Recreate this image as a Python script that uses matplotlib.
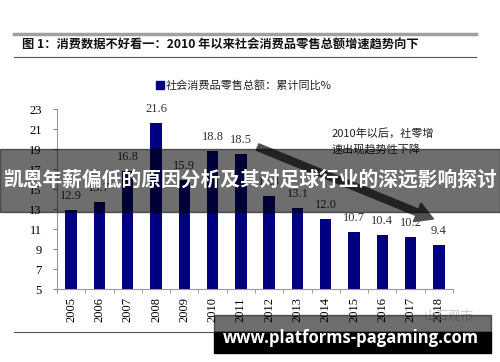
import matplotlib
matplotlib.use("Agg")
import matplotlib.pyplot as plt
from matplotlib.patches import Rectangle, FancyArrowPatch
from matplotlib.lines import Line2D

plt.rcParams['font.family'] = ['Noto Sans CJK SC', 'DejaVu Sans']

years = ['2005', '2006', '2007', '2008', '2009', '2010', '2011',
         '2012', '2013', '2014', '2015', '2016', '2017', '2018']
values = [12.9, 13.7, 16.8, 21.6, 15.9, 18.8, 18.5,
          14.3, 13.1, 12.0, 10.7, 10.4, 10.2, 9.4]
yticks = [5, 7, 9, 11, 13, 15, 17, 19, 21, 23]

title = '图 1：消费数据不好看一：2010 年以来社会消费品零售总额增速趋势向下'
legend_label = '社会消费品零售总额：累计同比%'
note_lines = ['2010年以后，社零增', '速出现趋势性下降']
banner = '凯恩年薪偏低的原因分析及其对足球行业的深远影响探讨'
site = 'www.platforms-pagaming.com'
watermark = '山石观市'

W, H = 500, 362
fig = plt.figure(figsize=(W / 100, H / 100), dpi=100)

def fx(px):
    return px / W

def fy(py):
    return 1 - py / H

ax = fig.add_axes([fx(57), fy(289), fx(453) - fx(57), fy(109) - fy(289)])
x = list(range(len(years)))
ax.bar(x, values, width=0.4, color='#000080', zorder=2)
ax.set_xlim(-0.5, len(years) - 0.5)
ax.set_ylim(5, 23)
ax.set_yticks(yticks)
ax.set_yticklabels([str(t) for t in yticks], family='Liberation Serif', fontsize=9)
ax.set_xticks(x)
ax.set_xticklabels(years, rotation=90, family='Liberation Serif', fontsize=9)
ax.set_xticks([i - 0.5 for i in range(len(years) + 1)], minor=True)
ax.tick_params(axis='x', which='major', length=0, pad=6)
ax.tick_params(axis='x', which='minor', length=3, color='#888888', direction='out')
ax.tick_params(axis='y', length=3, color='#888888', direction='out', pad=8)
for s in ['top', 'right']:
    ax.spines[s].set_visible(False)
for s in ['left', 'bottom']:
    ax.spines[s].set_color('#999999')
    ax.spines[s].set_linewidth(0.8)

for xi, v in zip(x, values):
    ax.annotate(f'{v:.1f}', (xi, v), xytext=(0, 6), textcoords='offset points',
                ha='center', va='bottom', family='Liberation Serif', fontsize=9,
                color='#333333')

# header lines and title
fig.add_artist(Line2D([fx(14), fx(476)], [fy(34), fy(34)], color='#a0a0a0', lw=2.5))
fig.add_artist(Line2D([fx(14), fx(476)], [fy(57), fy(57)], color='#555555', lw=0.8))
fig.text(fx(22), fy(45), title, fontsize=8.8, fontweight='bold', va='center', ha='left',
         color='#111111')
fig.add_artist(Line2D([fx(14), fx(476)], [fy(332), fy(332)], color='#555555', lw=0.8))

# legend
fig.add_artist(Rectangle((fx(156), fy(89)), fx(8), fy(81) - fy(89), color='#000080'))
fig.text(fx(166), fy(85), legend_label, fontsize=8, va='center', ha='left', color='#222222')

# annotation
fig.text(fx(332), fy(133), note_lines[0], fontsize=8, va='center', ha='left', color='#222222')
fig.text(fx(332), fy(149), note_lines[1], fontsize=8, va='center', ha='left', color='#222222')
arrow = FancyArrowPatch((0, 0), (1, 1),
                        arrowstyle='simple,head_width=1.6,head_length=1.4,tail_width=0.55',
                        mutation_scale=9, color='#505050', zorder=5)
arrow.set_transform(fig.dpi_scale_trans)
arrow.set_positions((255 / 100, (H - 146) / 100), (436 / 100, (H - 220) / 100))
fig.add_artist(arrow)

# watermark
fig.text(fx(474), fy(316), watermark, fontsize=9, va='center', ha='right', color='#c8c8c8')

# overlay banner
fig.add_artist(Rectangle((0, fy(212)), 1, fy(149) - fy(212), color='black', alpha=0.57,
                         zorder=10))
fig.text(0.5, fy(180), banner, fontsize=14.2, fontweight='bold', color='white',
         ha='center', va='center', zorder=11)

# bottom site banner
fig.add_artist(Rectangle((fx(214), fy(332)), fx(491) - fx(214), fy(315) - fy(332),
                         color='black', alpha=0.57, zorder=10))
fig.add_artist(Rectangle((fx(214), fy(353)), fx(491) - fx(214), fy(332) - fy(353),
                         color='black', zorder=10))
fig.text(fx(351), fy(338), site, fontsize=12, fontweight='bold', color='white',
         family='Open Sans', ha='center', va='center', zorder=11)

fig.savefig('out.png', dpi=100)
